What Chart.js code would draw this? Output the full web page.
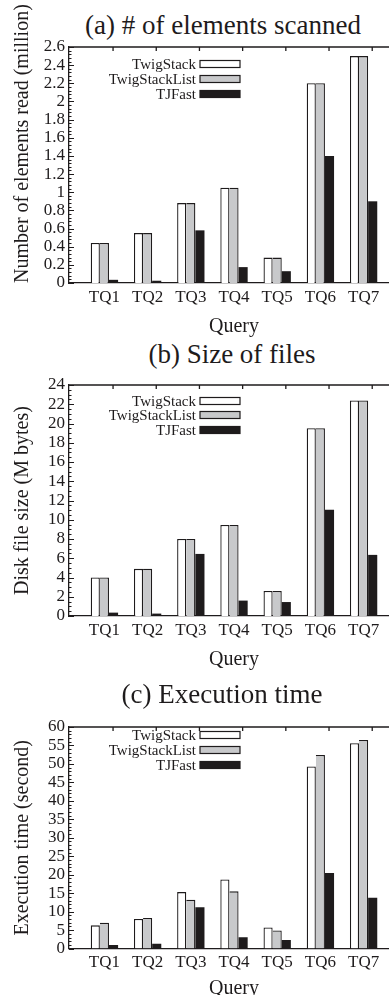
<!DOCTYPE html>
<html>
<head>
<meta charset="utf-8">
<script src="https://cdn.jsdelivr.net/npm/chart.js@4.4.1/dist/chart.umd.min.js"></script>
<style>
html, body { margin: 0; padding: 0; background: #fff; }
body { width: 389px; height: 995px; overflow: hidden; position: relative; font-family: 'Liberation Serif', serif; color: #1e1b1c; }
.panel { position: absolute; left: 0; width: 400px; }
.title { position: absolute; font-size: 27px; line-height: 27px; white-space: nowrap; transform: translateX(-50%); }
</style>
</head>
<body>
<div class="title" style="left:223px;top:12px">(a) # of elements scanned</div>
<div class="panel" style="top:0;height:339px"><canvas id="chart-scanned"></canvas></div>
<div class="title" style="left:232px;top:341px">(b) Size of files</div>
<div class="panel" style="top:337px;height:335px"><canvas id="chart-size"></canvas></div>
<div class="title" style="left:222px;top:681px">(c) Execution time</div>
<div class="panel" style="top:670px;height:331px"><canvas id="chart-time"></canvas></div>
<script>
const INK = '#1e1b1c';
const FONT = 'Liberation Serif, serif';
Chart.defaults.font.family = FONT;

const queries = ['TQ1', 'TQ2', 'TQ3', 'TQ4', 'TQ5', 'TQ6', 'TQ7'];
const seriesNames = ['TwigStack', 'TwigStackList', 'TJFast'];

// (a) elements read, million
const scannedTwigStack = [0.44, 0.55, 0.88, 1.05, 0.28, 2.2, 2.5];
const scannedTwigStackList = [0.44, 0.55, 0.88, 1.05, 0.28, 2.2, 2.5];
const scannedTJFast = [0.035, 0.025, 0.58, 0.175, 0.13, 1.4, 0.9];

// (b) disk file size, M bytes
const sizeTwigStack = [4.0, 4.9, 8.0, 9.45, 2.6, 19.5, 22.4];
const sizeTwigStackList = [4.0, 4.9, 8.0, 9.45, 2.6, 19.5, 22.4];
const sizeTJFast = [0.35, 0.25, 6.45, 1.6, 1.45, 11.05, 6.35];

// (c) execution time, second
const timeTwigStack = [6.3, 8.0, 15.3, 18.7, 5.7, 49.3, 55.6];
const timeTwigStackList = [7.0, 8.3, 13.2, 15.5, 4.9, 52.4, 56.5];
const timeTJFast = [1.0, 1.3, 11.2, 3.1, 2.3, 20.5, 13.8];

const fills = ['#ffffff', '#c8c9cb', INK];
const borders = [
    {top: 1.3, left: 1.3, right: 1.3, bottom: 0},
    {top: 1.3, left: 0, right: 1.3, bottom: 0},
    0
];

// top border, right border and the inward tick marks
const framePlugin = {
    id: 'frame',
    afterDatasetsDraw(chart, args, opts) {
        const {ctx, chartArea: a, scales: {x, y}} = chart;
        ctx.save();
        ctx.strokeStyle = INK;
        ctx.lineWidth = 1.3;
        ctx.beginPath();
        ctx.moveTo(a.left, a.top);
        ctx.lineTo(a.right, a.top);
        ctx.lineTo(a.right, a.bottom);
        queries.forEach((q, i) => {
            const px = x.getPixelForValue(i + 0.2);
            ctx.moveTo(px, a.top);
            ctx.lineTo(px, a.top + 4);
        });
        ctx.stroke();
        ctx.lineWidth = 1;
        ctx.beginPath();
        const step = y.options.ticks.stepSize;
        const minor = step / opts.minor;
        for (let k = 0; k * minor <= y.max + 1e-9; k++) {
            const py = Math.round(y.getPixelForValue(k * minor)) + 0.5;
            const len = k % opts.minor === 0 ? 5 : 2.5;
            ctx.moveTo(a.left, py);
            ctx.lineTo(a.left + len, py);
        }
        ctx.stroke();
        ctx.restore();
    }
};

// gnuplot style key: label right aligned, sample box on the right
const keyPlugin = {
    id: 'key',
    afterDraw(chart, args, opts) {
        const {ctx, chartArea: a} = chart;
        ctx.save();
        ctx.font = '15px ' + FONT;
        ctx.textAlign = 'right';
        ctx.textBaseline = 'middle';
        chart.data.datasets.forEach((ds, i) => {
            const cy = a.top + opts.rows[i];
            ctx.fillStyle = INK;
            ctx.fillText(ds.label, opts.textRight, cy + 1);
            ctx.fillStyle = ds.backgroundColor;
            ctx.fillRect(opts.boxLeft, cy - 3.5, 40, 7);
            ctx.strokeStyle = INK;
            ctx.lineWidth = 1.2;
            ctx.strokeRect(opts.boxLeft, cy - 3.5, 40, 7);
        });
        ctx.restore();
    }
};

function drawPanel(id, yTitle, yTitleAlign, series, yMax, yStep, minorTicks, padTop, queryPad, keyRows) {
    return new Chart(document.getElementById(id), {
        type: 'bar',
        data: {
            datasets: series.map((vals, k) => ({
                label: seriesNames[k],
                data: vals.map((v, i) => ({x: i, y: v})),
                backgroundColor: fills[k],
                borderColor: INK,
                borderWidth: borders[k],
                borderSkipped: 'start',
                categoryPercentage: 0.633,
                barPercentage: 1
            }))
        },
        options: {
            responsive: true,
            maintainAspectRatio: false,
            animation: false,
            layout: { padding: {top: padTop, right: 1, left: 0, bottom: 0} },
            plugins: {
                legend: { display: false },
                tooltip: { enabled: false },
                frame: { minor: minorTicks },
                key: { rows: keyRows, textRight: 196, boxLeft: 200 }
            },
            scales: {
                x: {
                    type: 'linear',
                    min: -0.82,
                    max: 6.82,
                    offset: false,
                    grid: { display: false, drawTicks: false },
                    border: { color: INK, width: 1.3 },
                    afterBuildTicks: (s) => { s.ticks = queries.map((q, i) => ({value: i})); },
                    ticks: {
                        autoSkip: false,
                        maxRotation: 0,
                        padding: 4,
                        color: INK,
                        font: { family: FONT, size: 17 },
                        callback: (v) => queries[Math.round(v)]
                    },
                    title: {
                        display: true,
                        text: 'Query',
                        color: INK,
                        font: { family: FONT, size: 20 },
                        padding: { top: queryPad, bottom: 0 }
                    }
                },
                y: {
                    min: 0,
                    max: yMax,
                    grid: { display: false, drawTicks: false },
                    border: { color: INK, width: 1.3 },
                    afterFit: (s) => { s.width = 69; },
                    ticks: {
                        stepSize: yStep,
                        autoSkip: false,
                        padding: 4,
                        color: INK,
                        font: { family: FONT, size: 17 },
                        callback: (v) => String(+v.toFixed(1))
                    },
                    title: {
                        display: true,
                        text: yTitle,
                        align: yTitleAlign,
                        color: INK,
                        font: { family: FONT, size: 20 },
                        padding: { top: 11, bottom: 0 }
                    }
                }
            }
        },
        plugins: [framePlugin, keyPlugin]
    });
}

drawPanel('chart-scanned', 'Number of elements read (million)', 'start',
    [scannedTwigStack, scannedTwigStackList, scannedTJFast], 2.6, 0.2, 5, 47, 3.6, [17, 32, 47]);
drawPanel('chart-size', 'Disk file size (M bytes)', 'center',
    [sizeTwigStack, sizeTwigStackList, sizeTJFast], 24, 2, 4, 48, 3.6, [16, 30, 45]);
drawPanel('chart-time', 'Execution time (second)', 'center',
    [timeTwigStack, timeTwigStackList, timeTJFast], 60, 5, 5, 57, 0, [8, 23, 38]);
</script>
</body>
</html>
